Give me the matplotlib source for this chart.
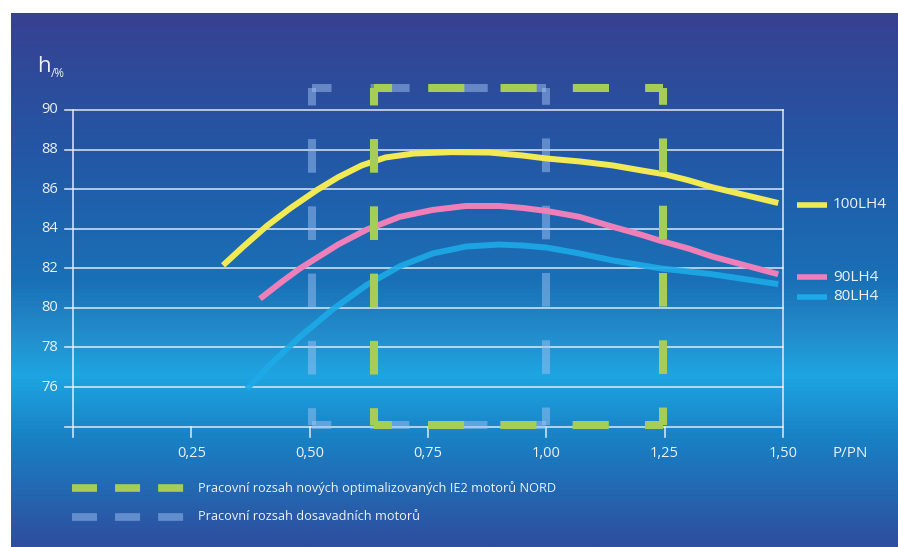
"""
Účinnost motorů NORD v závislosti na zatížení P/PN.
"""

import numpy as np
import matplotlib.pyplot as plt
from matplotlib.colors import LinearSegmentedColormap

plt.rcParams['font.family'] = ['Open Sans', 'DejaVu Sans']
plt.rcParams['lines.scale_dashes'] = False

### Data
P_100 = [0.317, 0.36, 0.41, 0.46, 0.515, 0.56, 0.61, 0.66, 0.72, 0.80, 0.88, 0.95, 1.0, 1.07, 1.14, 1.20, 1.25, 1.30, 1.35, 1.42, 1.49]
H_100 = [82.15, 83.1, 84.15, 85.05, 85.95, 86.6, 87.2, 87.6, 87.8, 87.87, 87.85, 87.7, 87.55, 87.4, 87.2, 86.95, 86.75, 86.45, 86.1, 85.7, 85.3]

P_90 = [0.395, 0.44, 0.48, 0.52, 0.56, 0.62, 0.69, 0.76, 0.83, 0.90, 0.95, 1.0, 1.07, 1.14, 1.20, 1.24, 1.30, 1.35, 1.42, 1.49]
H_90 = [80.46, 81.3, 82.0, 82.6, 83.2, 83.95, 84.6, 84.95, 85.15, 85.15, 85.05, 84.9, 84.6, 84.1, 83.7, 83.4, 83.0, 82.6, 82.15, 81.7]

P_80 = [0.367, 0.42, 0.48, 0.55, 0.62, 0.69, 0.76, 0.83, 0.90, 0.95, 1.0, 1.07, 1.14, 1.24, 1.35, 1.42, 1.49]
H_80 = [75.9, 77.2, 78.55, 79.95, 81.15, 82.1, 82.75, 83.1, 83.2, 83.15, 83.05, 82.75, 82.4, 82.0, 81.7, 81.45, 81.2]

SERIES = ['100LH4', '90LH4', '80LH4']
LEGEND_Y = [85.2, 81.55, 80.55]

XTICKS = [0.25, 0.50, 0.75, 1.00, 1.25, 1.50]
XLABELS = ['0,25', '0,50', '0,75', '1,00', '1,25', '1,50']
YTICKS = [76, 78, 80, 82, 84, 86, 88, 90]

RANGE_NEW = [0.636, 1.247]   # nové IE2 motory NORD
RANGE_OLD = [0.505, 1.0]     # dosavadní motory
RANGE_H = [74.1, 91.1]

LEGEND_TEXT = ['Pracovní rozsah nových optimalizovaných IE2 motorů NORD',
               'Pracovní rozsah dosavadních motorů']

### Barvy
YELLOW = '#f2ea55'
PINK = '#ee7fb8'
BLUE = '#1daae8'
GREEN = '#a6cd55'
OLDBLUE = (0.62, 0.76, 0.95, 0.5)
WHITE = '#eef2f7'
GRID = (0.93, 0.95, 0.98, 0.85)

W, H = 898, 547
fig = plt.figure(figsize=(W / 100, H / 100), dpi=100, facecolor='white')

### Pozadí (gradient)
bg = fig.add_axes([0, 0, 1, 1])
bg.set_xlim(0, W)
bg.set_ylim(H, 0)
bg.axis('off')
stops = [(0.0, (55, 65, 145)), (0.25, (36, 86, 165)), (0.5, (25, 112, 182)),
         (0.6, (35, 140, 203)), (0.68, (30, 165, 225)), (0.8, (25, 128, 196)),
         (1.0, (47, 78, 158))]
cmap = LinearSegmentedColormap.from_list('bg', [(s, tuple(c / 255 for c in col)) for s, col in stops])
grad = np.linspace(0, 1, 300).reshape(-1, 1)
bg.imshow(grad, cmap=cmap, aspect='auto', extent=[11, W, H, 13], zorder=0)

### Hlavní osy: x 0..1.5 -> px 73..783, y 74..90 -> px 426.6..110
x0, x1 = 73, 783
ytop, ybot = 110, 426.6
ax = fig.add_axes([x0 / W, 1 - ybot / H, (x1 - x0) / W, (ybot - ytop) / H])
ax.set_xlim(0, 1.5)
ax.set_ylim(74, 90)
ax.axis('off')
ax.patch.set_alpha(0)

px = 1.5 / (x1 - x0)          # jednotky x na pixel
py = 16 / (ybot - ytop)       # jednotky y na pixel

# mřížka
for y in YTICKS + [74]:
    ax.plot([-8 * px, 1.5], [y, y], color=GRID, lw=1.2, clip_on=False, zorder=1)
for x in [0, 1.5]:
    ax.plot([x, x], [74 - 10.5 * py, 90], color=GRID, lw=1.2, clip_on=False, zorder=1)
for x in XTICKS[:-1]:
    ax.plot([x, x], [74 - 10.5 * py, 74], color=GRID, lw=1.2, clip_on=False, zorder=1)

# popisky os
for x, lab in zip(XTICKS, XLABELS):
    ax.text(x, 74 - 27 * py, lab, color=WHITE, fontsize=10.5, ha='center', va='center')
for y in YTICKS:
    ax.text(-15 * px, y, str(y), color=WHITE, fontsize=10.5, ha='right', va='center')
ax.text(1.5 + 67 * px, 74 - 27 * py, 'P/PN', color=WHITE, fontsize=11, ha='center', va='center')
ax.text(-36 * px, 90 + 38 * py, 'h', color=WHITE, fontsize=16, ha='left', va='baseline')
ax.text(-22 * px, 90 + 33 * py, '/%', color=WHITE, fontsize=8.5, ha='left', va='baseline')


def dashed_rect(xr, yr, color, lw, z):
    # každá strana zvlášť, rohy s poloviční čárkou
    corners = [(xr[0], yr[1]), (xr[1], yr[1]), (xr[1], yr[0]), (xr[0], yr[0]), (xr[0], yr[1])]
    for (xa, ya), (xb, yb) in zip(corners[:-1], corners[1:]):
        length = abs(xb - xa) / px + abs(yb - ya) / py
        k = max(1, round(length / 68))
        d = length / (2 * k) * 0.72
        ax.plot([xa, xb], [ya, yb], color=color, lw=lw, clip_on=False, zorder=z,
                linestyle=(d / 2, (d, d)), solid_capstyle='butt', dash_capstyle='butt')


dashed_rect(RANGE_OLD, RANGE_H, OLDBLUE, 5.8, 2)

# křivky
ax.plot(P_100, H_100, color=YELLOW, lw=4.3, solid_capstyle='butt', solid_joinstyle='round', zorder=3)
ax.plot(P_90, H_90, color=PINK, lw=4.3, solid_capstyle='butt', solid_joinstyle='round', zorder=3)
ax.plot(P_80, H_80, color=BLUE, lw=4.3, alpha=0.9, solid_capstyle='butt', solid_joinstyle='round', zorder=3)

dashed_rect(RANGE_NEW, RANGE_H, GREEN, 5.8, 4)

# legenda vpravo
for name, col, y in zip(SERIES, [YELLOW, PINK, BLUE], LEGEND_Y):
    ax.plot([1.5 + 14 * px, 1.5 + 44 * px], [y, y], color=col, lw=4, clip_on=False, solid_capstyle='butt')
    ax.text(1.5 + 50 * px, y, name, color=WHITE, fontsize=11, ha='left', va='center')

# legenda dole
for i, (col, lab) in enumerate(zip([GREEN, OLDBLUE], LEGEND_TEXT)):
    y = 74 - (61 + 29 * i) * py
    ax.plot([-1 * px, 111 * px], [y, y], color=col, lw=5.5, clip_on=False,
            linestyle=(0, (18, 13)), dash_capstyle='butt')
    ax.text(125 * px, y, lab, color=WHITE, fontsize=9.2, ha='left', va='center')

plt.savefig('out.png', dpi=100, facecolor='white')
